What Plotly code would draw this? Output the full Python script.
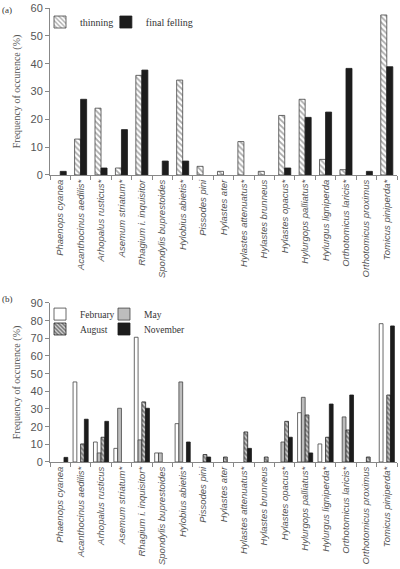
import plotly.graph_objects as go

# ---------------- data ----------------
species_a = ["Phaenops cyanea", "Acanthocinus aedilis*", "Arhopalus rusticus*", "Asemum striatum*",
             "Rhagium i. inquisitor", "Spondylis buprestoides", "Hylobius abietis*", "Pissodes pini",
             "Hylastes ater", "Hylastes attenuatus*", "Hylastes brunneus", "Hylastes opacus*",
             "Hylurgops palliatus*", "Hylurgus ligniperda", "Orthotomicus laricis*",
             "Orthotomicus proximus", "Tomicus piniperda*"]
thinning = [0, 12.9, 24.0, 2.5, 35.8, 0, 34.1, 3.1, 1.3, 12.0, 1.3, 21.4, 27.2, 5.6, 1.9, 0, 57.5]
final_felling = [1.3, 27.2, 2.5, 16.3, 37.7, 5.0, 5.0, 0, 0, 0, 0, 2.5, 20.7, 22.6, 38.3, 1.3, 38.9]

species_b = ["Phaenops cyanea", "Acanthocinus aedilis*", "Arhopalus rusticus", "Asemum striatum*",
             "Rhagium i. inquisitor*", "Spondylis buprestoides", "Hylobius abietis*", "Pissodes pini",
             "Hylastes ater", "Hylastes attenuatus*", "Hylastes brunneus", "Hylastes opacus*",
             "Hylurgops palliatus*", "Hylurgus ligniperda*", "Orthotomicus laricis*",
             "Orthotomicus proximus", "Tomicus piniperda*"]
february = [0, 45.3, 11.3, 7.7, 70.6, 5.1, 21.7, 0, 0, 0, 0, 0, 27.9, 10.2, 0, 0, 78.3]
may = [0, 0, 5.1, 30.4, 12.5, 5.1, 45.3, 0, 0, 0, 0, 11.3, 36.6, 0, 25.5, 0, 0]
august = [0, 10.2, 14.0, 0, 34.0, 0, 0, 4.2, 2.8, 17.0, 2.8, 23.0, 26.6, 14.0, 18.1, 2.8, 37.9]
november = [2.6, 24.2, 23.0, 0, 30.4, 0, 11.3, 2.8, 0, 7.7, 0, 14.0, 5.1, 32.8, 37.9, 0, 77.0]


def nz(vals):
    return [v if v > 0 else None for v in vals]


SANS = "Liberation Sans, Arial, sans-serif"
SERIF = "Liberation Serif, Times New Roman, serif"
OUT = "#444444"

fig = go.Figure()

# ---------- panel (a) ----------
wa = 0.295
fig.add_trace(go.Bar(
    x=species_a, y=nz(thinning), name="thinning", width=wa, offset=-wa,
    marker=dict(color="white", line=dict(color=OUT, width=0.8),
                pattern=dict(shape="\\", size=4, solidity=0.45, fgcolor="#555555", bgcolor="white")),
    xaxis="x", yaxis="y", legend="legend"))
fig.add_trace(go.Bar(
    x=species_a, y=nz(final_felling), name="final felling", width=wa, offset=0,
    marker=dict(color="#1c1c1c", line=dict(color="#1c1c1c", width=0.8)),
    xaxis="x", yaxis="y", legend="legend2"))

# ---------- panel (b) ----------
wb = 0.185
fig.add_trace(go.Bar(
    x=species_b, y=nz(february), name="February", width=wb, offset=-2 * wb,
    marker=dict(color="white", line=dict(color=OUT, width=0.8)),
    xaxis="x2", yaxis="y2", legend="legend3"))
fig.add_trace(go.Bar(
    x=species_b, y=nz(may), name="May", width=wb, offset=-wb,
    marker=dict(color="#bdbdbd", line=dict(color=OUT, width=0.8)),
    xaxis="x2", yaxis="y2", legend="legend4"))
fig.add_trace(go.Bar(
    x=species_b, y=nz(august), name="August", width=wb, offset=0,
    marker=dict(color="white", line=dict(color="#222222", width=0.8),
                pattern=dict(shape="\\", size=3.5, solidity=0.55, fgcolor="#222222", bgcolor="#d0d0d0")),
    xaxis="x2", yaxis="y2", legend="legend5"))
fig.add_trace(go.Bar(
    x=species_b, y=nz(november), name="November", width=wb, offset=wb,
    marker=dict(color="#1c1c1c", line=dict(color="#1c1c1c", width=0.8)),
    xaxis="x2", yaxis="y2", legend="legend6"))

xcommon = dict(type="category", showline=True, linecolor="#888888", linewidth=1,
               ticks="outside", tickson="boundaries", ticklen=4, tickcolor="#888888",
               tickangle=-90, tickfont=dict(family=SANS, size=9.5, color="#555555", style="italic"),
               showgrid=False, zeroline=False, automargin=False, fixedrange=True)
ycommon = dict(showline=True, linecolor="#888888", linewidth=1, ticks="outside", ticklen=4,
               tickcolor="#888888", tickfont=dict(family=SANS, size=11, color="#555555"),
               showgrid=False, zeroline=False, automargin=False, dtick=10,
               title=dict(text="Frequency of occurence (%)", font=dict(family=SERIF, size=10, color="#555555"),
                          standoff=8))


def leg(x, y, size):
    return dict(orientation="h", x=x, y=y, xanchor="left", yanchor="middle", visible=True,
                font=dict(family=SERIF, size=size, color="#333333"), itemwidth=30,
                bgcolor="rgba(0,0,0,0)")


fig.update_layout(
    width=400, height=569,
    margin=dict(l=50, r=3, t=0, b=0),
    paper_bgcolor="white", plot_bgcolor="white",
    barmode="overlay",
    showlegend=True,
    xaxis=dict(**xcommon, domain=[0, 1], anchor="y"),
    yaxis=dict(**ycommon, domain=[0.6925, 0.9859], range=[0, 60], anchor="x"),
    xaxis2=dict(**xcommon, domain=[0, 1], anchor="y2"),
    yaxis2=dict(**ycommon, domain=[0.1881, 0.4675], range=[0, 90], anchor="x2"),
    legend=leg(-0.0288, 0.9613, 10),
    legend2=leg(0.161, 0.9613, 10),
    legend3=leg(-0.0288, 0.448, 9.5),
    legend4=leg(0.1556, 0.448, 9.5),
    legend5=leg(-0.0288, 0.4218, 9.5),
    legend6=leg(0.1556, 0.4218, 9.5),
    annotations=[
        dict(text="(a)", x=-0.144, y=0.995, xref="paper", yref="paper", xanchor="left", yanchor="top",
             showarrow=False, font=dict(family=SERIF, size=9, color="#333333")),
        dict(text="(b)", x=-0.144, y=0.487, xref="paper", yref="paper", xanchor="left", yanchor="top",
             showarrow=False, font=dict(family=SERIF, size=9, color="#333333")),
    ],
)

fig.write_html("out.html")
